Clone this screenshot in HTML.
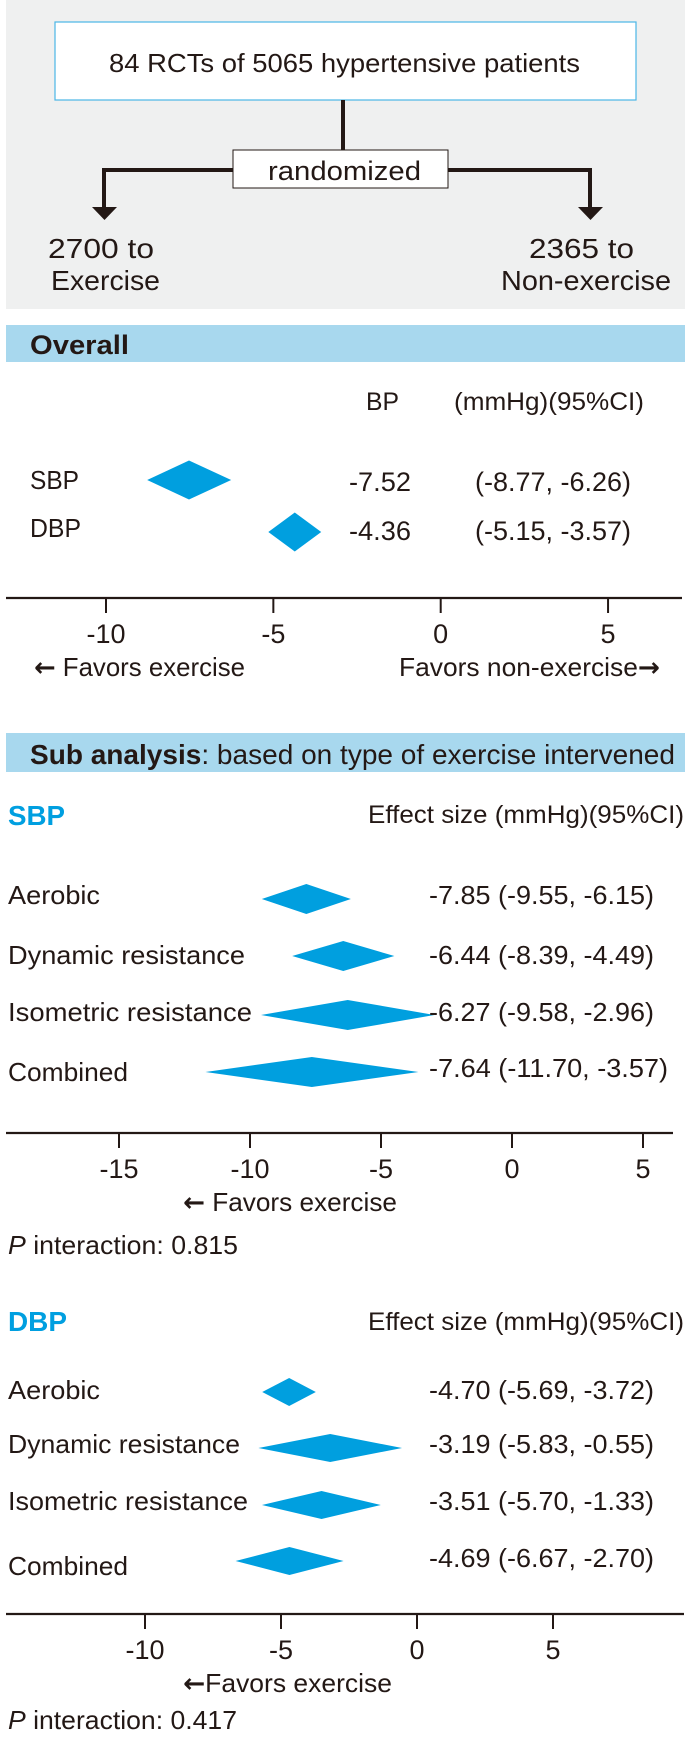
<!DOCTYPE html>
<html><head><meta charset="utf-8"><style>
html,body{margin:0;padding:0;background:#fff;}
svg{display:block;}
text{font-family:"Liberation Sans","Noto Sans CJK JP",sans-serif;fill:#231815;}
.ar{font-family:"DejaVu Sans",sans-serif;font-weight:bold;}
</style></head><body>
<svg id="fig" width="685" height="1757" viewBox="0 0 685 1757" xmlns="http://www.w3.org/2000/svg">
<g>
<rect x="6" y="0" width="679" height="309" fill="#eff0f0"/>
<rect x="55" y="22" width="581" height="78" fill="#fff" stroke="#4ab6e6" stroke-width="1.2"/>
<text x="109" y="72" font-size="26" textLength="471" lengthAdjust="spacingAndGlyphs">84 RCTs of 5065 hypertensive patients</text>
<rect x="341" y="100" width="4" height="50" fill="#231815"/>
<path d="M104 170 H233 M448 170 H590 M104 168 V210 M590 168 V210" stroke="#231815" stroke-width="4" fill="none"/>
<polygon points="92,207 117,207 104.5,220" fill="#231815"/>
<polygon points="578,207 603,207 590.5,220" fill="#231815"/>
<rect x="233" y="150" width="215" height="38" fill="#fff" stroke="#231815" stroke-width="1"/>
<text x="268" y="180" font-size="27" textLength="153" lengthAdjust="spacingAndGlyphs">randomized</text>
<text x="48" y="258" font-size="28" textLength="106" lengthAdjust="spacingAndGlyphs">2700 to</text>
<text x="51" y="290" font-size="28" textLength="109" lengthAdjust="spacingAndGlyphs">Exercise</text>
<text x="529" y="258" font-size="28" textLength="105" lengthAdjust="spacingAndGlyphs">2365 to</text>
<text x="501" y="290" font-size="28" textLength="170" lengthAdjust="spacingAndGlyphs">Non-exercise</text>
</g>
<rect x="6" y="325" width="679" height="37" fill="#a8d8ee"/>
<text x="30" y="354" font-size="27" font-weight="bold" textLength="99" lengthAdjust="spacingAndGlyphs">Overall</text>
<text x="366" y="410" font-size="25" textLength="33" lengthAdjust="spacingAndGlyphs">BP</text>
<text x="454" y="410" font-size="25" textLength="190" lengthAdjust="spacingAndGlyphs">(mmHg)(95%CI)</text>
<rect x="6" y="733" width="679" height="39" fill="#a8d8ee"/>
<text x="30" y="764" font-size="28" textLength="645" lengthAdjust="spacingAndGlyphs"><tspan font-weight="bold">Sub analysis</tspan>: based on type of exercise intervened</text>
<text x="8" y="825" font-size="28" font-weight="bold" style="fill:#009fe0" textLength="57" lengthAdjust="spacingAndGlyphs">SBP</text>
<text x="368" y="823" font-size="25" textLength="316" lengthAdjust="spacingAndGlyphs">Effect size (mmHg)(95%CI)</text>
<text x="8" y="1254" font-size="26" textLength="230" lengthAdjust="spacingAndGlyphs"><tspan font-style="italic">P</tspan> interaction: 0.815</text>
<text x="8" y="1331" font-size="28" font-weight="bold" style="fill:#009fe0" textLength="59" lengthAdjust="spacingAndGlyphs">DBP</text>
<text x="368" y="1330" font-size="25" textLength="316" lengthAdjust="spacingAndGlyphs">Effect size (mmHg)(95%CI)</text>
<text x="8" y="1729" font-size="26" textLength="229" lengthAdjust="spacingAndGlyphs"><tspan font-style="italic">P</tspan> interaction: 0.417</text>
<g id="charts"></g>
</svg>
<script>
// ---- data ----
const overallCats = ['SBP', 'DBP'];
const overallEst = [-7.52, -4.36];
const overallLo = [-8.77, -5.15];
const overallHi = [-6.26, -3.57];
const overallTicks = [-10, -5, 0, 5];

const sbpCats = ['Aerobic', 'Dynamic resistance', 'Isometric resistance', 'Combined'];
const sbpEst = [-7.85, -6.44, -6.27, -7.64];
const sbpLo = [-9.55, -8.39, -9.58, -11.70];
const sbpHi = [-6.15, -4.49, -2.96, -3.57];
const sbpTicks = [-15, -10, -5, 0, 5];

const dbpCats = ['Aerobic', 'Dynamic resistance', 'Isometric resistance', 'Combined'];
const dbpEst = [-4.70, -3.19, -3.51, -4.69];
const dbpLo = [-5.69, -5.83, -5.70, -6.67];
const dbpHi = [-3.72, -0.55, -1.33, -2.70];
const dbpTicks = [-10, -5, 0, 5];

const NS = 'http://www.w3.org/2000/svg';
const root = document.getElementById('charts');

function mk(tag, attrs, parent) {
  const e = document.createElementNS(NS, tag);
  for (const k in attrs) e.setAttribute(k, attrs[k]);
  (parent || root).appendChild(e);
  return e;
}
function fmt(v) { return v.toFixed(2); }

function drawChart(cfg) {
  const g = mk('g', {});
  
  
  const x = v => cfg.zero + v * cfg.unit;
  const ax = mk('line', {x1: cfg.axisX1, x2: cfg.axisX2, y1: cfg.axisY, y2: cfg.axisY, stroke: '#231815', 'stroke-width': 2.2}, g);
  
  
  cfg.ticks.forEach(t => {
    const tk = mk('line', {x1: x(t), x2: x(t), y1: cfg.axisY, y2: cfg.axisY + 15, stroke: '#231815', 'stroke-width': 2}, g);
    
    
    const tl = mk('text', {x: x(t), y: cfg.axisY + 45, 'font-size': 27, 'text-anchor': 'middle'}, g);
    tl.textContent = String(t);
    
    
  });
  cfg.cats.forEach((c, i) => {
    const row = cfg.rows[i];
    const lab = mk('text', {x: cfg.labelX, y: row.ly, 'font-size': cfg.labelSize, textLength: cfg.labelW[i], lengthAdjust: 'spacingAndGlyphs'}, g);
    lab.textContent = c;
    
    
    const my = row.dy, h = cfg.half;
    const d = mk('polygon', {points: `${x(cfg.lo[i])},${my} ${x(cfg.est[i])},${my - h} ${x(cfg.hi[i])},${my} ${x(cfg.est[i])},${my + h}`, fill: '#009fdf'}, g);
    
    
    if (cfg.split) {
      const v1 = mk('text', {x: cfg.valX, y: row.vy, 'font-size': 27, textLength: 62, lengthAdjust: 'spacingAndGlyphs'}, g);
      v1.textContent = fmt(cfg.est[i]);
      
      
      const v2 = mk('text', {x: cfg.ciX, y: row.vy, 'font-size': 27, textLength: 156, lengthAdjust: 'spacingAndGlyphs'}, g);
      v2.textContent = '(' + fmt(cfg.lo[i]) + ', ' + fmt(cfg.hi[i]) + ')';
      
      
    } else {
      const str = fmt(cfg.est[i]) + ' (' + fmt(cfg.lo[i]) + ', ' + fmt(cfg.hi[i]) + ')';
      const v = mk('text', {x: cfg.valX, y: row.vy, 'font-size': 26, textLength: (cfg.lo[i] <= -10 ? 239 : 225), lengthAdjust: 'spacingAndGlyphs'}, g);
      v.textContent = str;
      
      
    }
  });
  cfg.favors.forEach(f => {
    const t = mk('text', {x: f.x, y: cfg.axisY + 78, 'font-size': 26, textLength: f.w, lengthAdjust: 'spacingAndGlyphs'}, g);
    if (f.left) {
      const a = mk('tspan', {class: 'ar'}, t); a.textContent = '\u2190';
      const s = mk('tspan', {}, t); s.textContent = f.t;
    } else {
      const s = mk('tspan', {}, t); s.textContent = f.t;
      const a = mk('tspan', {class: 'ar'}, t); a.textContent = '\u2192';
    }
    
    
  });
}

drawChart({
  name: 'overall-forest-plot', cats: overallCats, est: overallEst, lo: overallLo, hi: overallHi, ticks: overallTicks,
  zero: 440.7, unit: 33.47, axisY: 598, axisX1: 6, axisX2: 682, half: 19.5, split: true,
  labelX: 30, labelSize: 26, labelW: [49, 51], valX: 349, ciX: 475,
  rows: [{ly: 489, dy: 480, vy: 491}, {ly: 537, dy: 532, vy: 540}],
  favors: [{x: 34, w: 211, t: ' Favors exercise', n: 'favors-exercise-label', left: true},
           {x: 399, w: 261, t: 'Favors non-exercise', n: 'favors-non-exercise-label', left: false}]
});
drawChart({
  name: 'sbp-forest-plot', cats: sbpCats, est: sbpEst, lo: sbpLo, hi: sbpHi, ticks: sbpTicks,
  zero: 512, unit: 26.2, axisY: 1133, axisX1: 6, axisX2: 673, half: 15, split: false,
  labelX: 8, labelSize: 26, labelW: [92, 237, 244, 120], valX: 429,
  rows: [{ly: 904, dy: 899, vy: 904}, {ly: 964, dy: 956, vy: 964}, {ly: 1021, dy: 1015, vy: 1021}, {ly: 1081, dy: 1072, vy: 1077}],
  favors: [{x: 183, w: 214, t: ' Favors exercise', n: 'sbp-favors-exercise-label', left: true}]
});
drawChart({
  name: 'dbp-forest-plot', cats: dbpCats, est: dbpEst, lo: dbpLo, hi: dbpHi, ticks: dbpTicks,
  zero: 417, unit: 27.2, axisY: 1614, axisX1: 6, axisX2: 684, half: 14, split: false,
  labelX: 8, labelSize: 26, labelW: [92, 232, 240, 120], valX: 429,
  rows: [{ly: 1399, dy: 1392, vy: 1399}, {ly: 1453, dy: 1448, vy: 1453}, {ly: 1510, dy: 1505, vy: 1510}, {ly: 1575, dy: 1561, vy: 1567}],
  favors: [{x: 183, w: 209, t: 'Favors exercise', n: 'dbp-favors-exercise-label', left: true}]
});
</script>
</body></html>
